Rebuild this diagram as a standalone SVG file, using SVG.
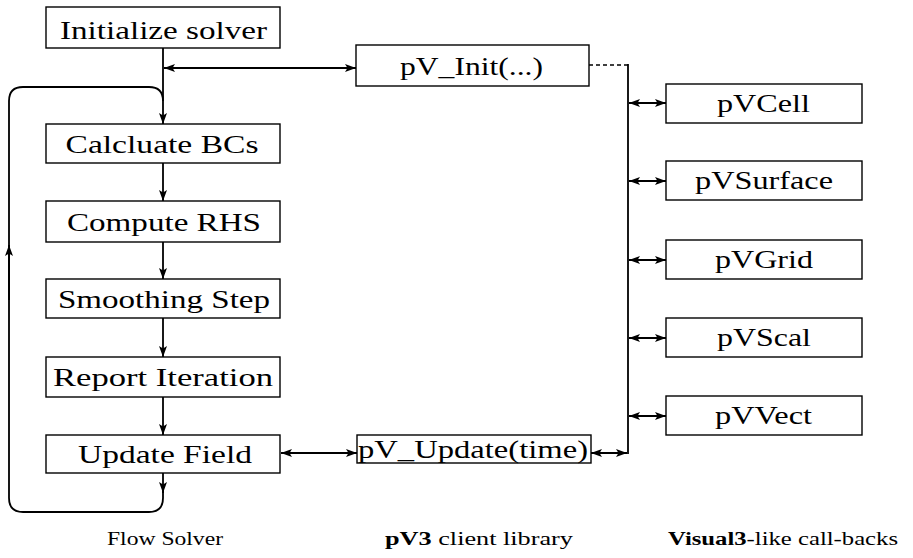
<svg xmlns="http://www.w3.org/2000/svg" width="913" height="558" viewBox="0 0 913 558">
<defs>
<marker id="ah" markerUnits="userSpaceOnUse" markerWidth="12" markerHeight="10" viewBox="0 0 12 10" refX="11" refY="5" orient="auto-start-reverse">
<path d="M0,1 L11,5 L0,9 L2.5,5 Z" fill="#000"/>
</marker>
</defs>
<style>
.box{fill:#fff;stroke:#000;stroke-width:1.4}
.t{font-size:26px;text-anchor:middle;fill:#000}
.lab{font-size:18px;text-anchor:middle;fill:#000}
.c{fill:none;stroke:#000;stroke-width:1.8}
.a{fill:none;stroke:#000;stroke-width:1.8;marker-end:url(#ah)}
.d{fill:none;stroke:#000;stroke-width:1.8;marker-start:url(#ah);marker-end:url(#ah)}
</style>
<rect width="913" height="558" fill="#fff"/>
<g id="connectors">
<line class="a" x1="163" y1="48" x2="163" y2="124"/>
<line class="d" x1="164" y1="68" x2="356" y2="68"/>
<path class="c" d="M163,101 Q163,87 149,87 L23,87 Q9,87 9,101 L9,498 Q9,512 23,512 L149,512 Q163,512 163,498 L163,490"/>
<line class="a" x1="9" y1="300" x2="9" y2="245"/>
<line class="a" x1="163" y1="473" x2="163" y2="493"/>
<line class="a" x1="163" y1="163" x2="163" y2="201"/>
<line class="a" x1="163" y1="242" x2="163" y2="279"/>
<line class="a" x1="163" y1="318" x2="163" y2="357"/>
<line class="a" x1="163" y1="397" x2="163" y2="435"/>
<line class="d" x1="281" y1="453" x2="357" y2="453"/>
<line class="d" x1="591" y1="453" x2="627" y2="453"/>
<line x1="589" y1="65" x2="628" y2="65" stroke="#000" stroke-width="1.4" stroke-dasharray="4,3"/>
<line class="c" x1="628" y1="64" x2="628" y2="454"/>
<line class="d" x1="629" y1="103" x2="666" y2="103"/>
<line class="d" x1="629" y1="181" x2="666" y2="181"/>
<line class="d" x1="629" y1="260" x2="666" y2="260"/>
<line class="d" x1="629" y1="338" x2="666" y2="338"/>
<line class="d" x1="629" y1="416" x2="666" y2="416"/>
</g>
<g font-family="'Liberation Serif', 'Times New Roman', serif">
<g id="init"><rect class="box" x="46" y="7" width="234" height="41"/><text class="t" x="163.5" y="39" textLength="207" lengthAdjust="spacingAndGlyphs">Initialize solver</text></g>
<g id="bcs"><rect class="box" x="46" y="124" width="234" height="39"/><text class="t" x="162" y="153" textLength="193" lengthAdjust="spacingAndGlyphs">Calcluate BCs</text></g>
<g id="rhs"><rect class="box" x="46" y="201" width="234" height="41"/><text class="t" x="164" y="231" textLength="194" lengthAdjust="spacingAndGlyphs">Compute RHS</text></g>
<g id="smooth"><rect class="box" x="46" y="279" width="234" height="39"/><text class="t" x="164" y="308" textLength="212" lengthAdjust="spacingAndGlyphs">Smoothing Step</text></g>
<g id="report"><rect class="box" x="46" y="357" width="234" height="40"/><text class="t" x="163" y="386" textLength="220" lengthAdjust="spacingAndGlyphs">Report Iteration</text></g>
<g id="update"><rect class="box" x="46" y="435" width="234" height="38"/><text class="t" x="165" y="463" textLength="174" lengthAdjust="spacingAndGlyphs">Update Field</text></g>
<g id="pvinit"><rect class="box" x="356" y="45" width="233" height="41"/><text class="t" x="471.5" y="75" textLength="143" lengthAdjust="spacingAndGlyphs">pV_Init(...)</text></g>
<g id="pvupdate"><rect class="box" x="357" y="435" width="234" height="28"/><text class="t" x="473" y="458" textLength="230" lengthAdjust="spacingAndGlyphs">pV_Update(time)</text></g>
<g id="pvcell"><rect class="box" x="666" y="84" width="196" height="39"/><text class="t" x="763.5" y="112" textLength="93" lengthAdjust="spacingAndGlyphs">pVCell</text></g>
<g id="pvsurface"><rect class="box" x="666" y="161" width="196" height="39"/><text class="t" x="764" y="189" textLength="138" lengthAdjust="spacingAndGlyphs">pVSurface</text></g>
<g id="pvgrid"><rect class="box" x="666" y="240" width="196" height="39"/><text class="t" x="764" y="268" textLength="98" lengthAdjust="spacingAndGlyphs">pVGrid</text></g>
<g id="pvscal"><rect class="box" x="666" y="318" width="196" height="39"/><text class="t" x="764" y="346" textLength="94" lengthAdjust="spacingAndGlyphs">pVScal</text></g>
<g id="pvvect"><rect class="box" x="666" y="396" width="196" height="39"/><text class="t" x="763.5" y="424" textLength="97" lengthAdjust="spacingAndGlyphs">pVVect</text></g>
<g id="labels">
<text class="lab" x="165" y="545" textLength="116" lengthAdjust="spacingAndGlyphs">Flow Solver</text>
<text class="lab" x="479" y="545" textLength="188" lengthAdjust="spacingAndGlyphs"><tspan font-weight="bold">pV3</tspan> client library</text>
<text class="lab" x="783" y="545" textLength="230" lengthAdjust="spacingAndGlyphs"><tspan font-weight="bold">Visual3</tspan>-like call-backs</text>
</g>
</g>
</svg>
